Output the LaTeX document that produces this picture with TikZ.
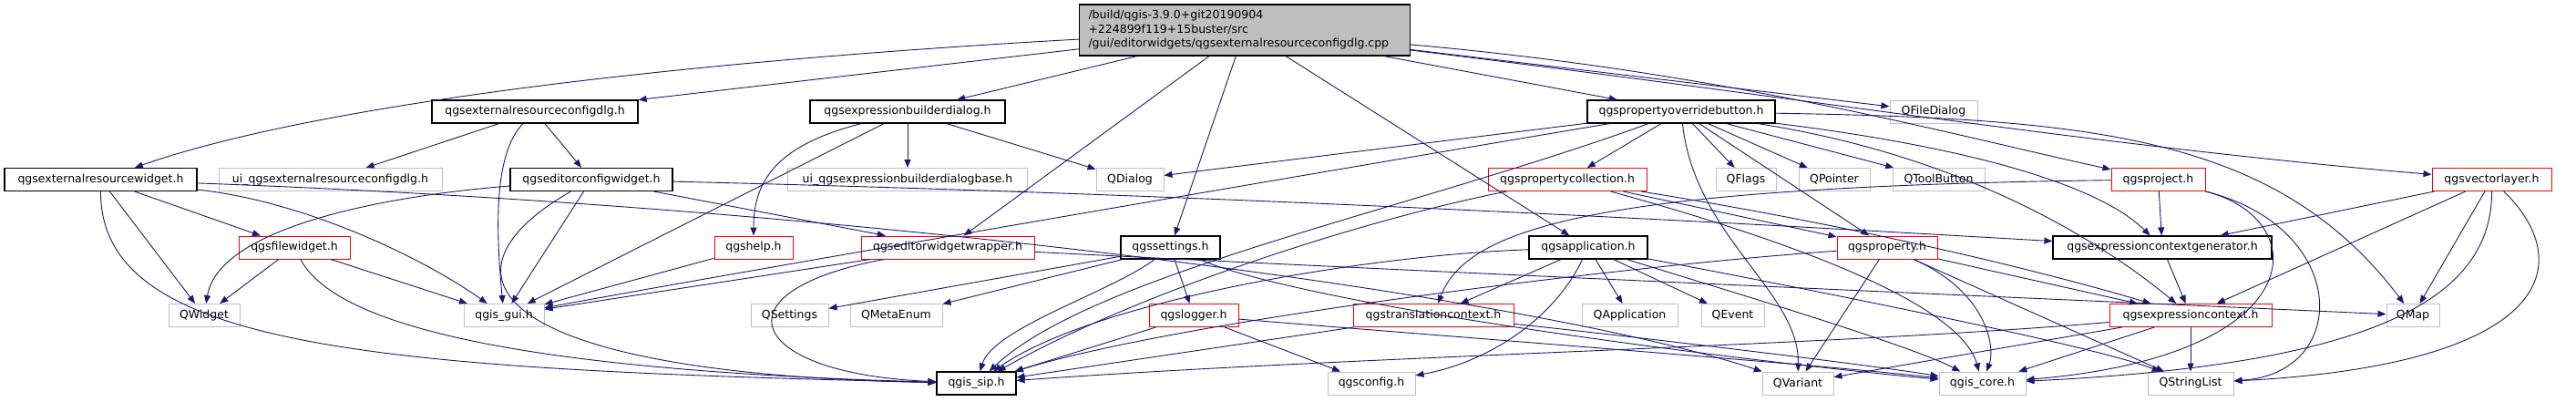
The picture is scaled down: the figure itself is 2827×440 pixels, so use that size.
\documentclass[tikz,border=0pt]{standalone}
\usepackage{fontspec}
\setmainfont{DejaVu Sans}
\usetikzlibrary{arrows.meta}
\definecolor{edgeblue}{HTML}{191970}
\definecolor{boxgray}{HTML}{BFBFBF}

\begin{document}
\begin{tikzpicture}[
      x=1pt, y=-1pt,
      every node/.style={font=\fontsize{12.5}{15.5}\selectfont, inner sep=0pt,
                         minimum height=25pt, fill=white},
      docbox/.style={draw=black, line width=1.2pt},
      redbox/.style={draw=red, line width=1pt},
      extbox/.style={draw=boxgray, line width=1pt},
      arrow/.style={-{Triangle[length=9pt,width=7pt]}, line width=0.9pt, draw=edgeblue},
  ]
    \useasboundingbox (0,0) rectangle (2827,440);

    %% --- The source file ---
    \node[docbox, fill=boxgray, minimum width=363pt, minimum height=56pt,
          text width=343pt, align=left] (cpp) at (1366,33)
      {/build/qgis-3.9.0+git20190904\\+224899f119+15buster/src\\/gui/editorwidgets/qgsexternalresourceconfigdlg.cpp};

    %% --- Rank 1 ---
    \node[docbox, minimum width=226pt] (cfgdlg) at (587,122.5) {qgsexternalresourceconfigdlg.h};
    \node[docbox, minimum width=214pt] (exprdlg) at (996,122.5) {qgsexpressionbuilderdialog.h};
    \node[docbox, minimum width=206pt] (ovrbtn) at (1845,122.5) {qgspropertyoverridebutton.h};
    \node[extbox, minimum width=96pt] (filedlg) at (2122,122.5) {QFileDialog};

    %% --- Rank 2 ---
    \node[docbox, minimum width=211pt] (reswidget) at (110.5,197) {qgsexternalresourcewidget.h};
    \node[extbox, minimum width=245pt] (uicfgdlg) at (362.5,197) {ui\_qgsexternalresourceconfigdlg.h};
    \node[docbox, minimum width=178pt] (edcfgwidget) at (649,197) {qgseditorconfigwidget.h};
    \node[extbox, minimum width=263pt] (uiexprdlg) at (996,197) {ui\_qgsexpressionbuilderdialogbase.h};
    \node[extbox, minimum width=74pt] (qdialog) at (1240,197) {QDialog};
    \node[redbox, minimum width=174pt] (propcoll) at (1720,197) {qgspropertycollection.h};
    \node[extbox, minimum width=66pt] (qflags) at (1916,197) {QFlags};
    \node[extbox, minimum width=78pt] (qpointer) at (2013,197) {QPointer};
    \node[extbox, minimum width=101pt] (qtoolbutton) at (2127.5,197) {QToolButton};
    \node[redbox, minimum width=103pt] (project) at (2368.5,197) {qgsproject.h};
    \node[redbox, minimum width=131pt] (vlayer) at (2734.5,197) {qgsvectorlayer.h};

    %% --- Rank 3 ---
    \node[redbox, minimum width=122pt] (filewidget) at (323,271.5) {qgsfilewidget.h};
    \node[redbox, minimum width=86pt] (help) at (827,271.5) {qgshelp.h};
    \node[redbox, minimum width=190pt] (edwrapper) at (1040,271.5) {qgseditorwidgetwrapper.h};
    \node[docbox, minimum width=109pt] (settings) at (1284.5,271.5) {qgssettings.h};
    \node[docbox, minimum width=130pt] (application) at (1743,271.5) {qgsapplication.h};
    \node[redbox, minimum width=110pt] (property) at (2071,271.5) {qgsproperty.h};
    \node[docbox, minimum width=240pt] (ctxgen) at (2373,271.5) {qgsexpressioncontextgenerator.h};

    %% --- Rank 4 ---
    \node[extbox, minimum width=78pt] (qwidget) at (224,346) {QWidget};
    \node[extbox, minimum width=88pt] (gui) at (553,346) {qgis\_gui.h};
    \node[extbox, minimum width=85pt] (qsettings) at (866.5,346) {QSettings};
    \node[extbox, minimum width=101pt] (qmetaenum) at (983.5,346) {QMetaEnum};
    \node[redbox, minimum width=98pt] (logger) at (1310,346) {qgslogger.h};
    \node[redbox, minimum width=176pt] (transctx) at (1573,346) {qgstranslationcontext.h};
    \node[extbox, minimum width=105pt] (qapplication) at (1788.5,346) {QApplication};
    \node[extbox, minimum width=69pt] (qevent) at (1901.5,346) {QEvent};
    \node[redbox, minimum width=178pt] (exprctx) at (2404,346) {qgsexpressioncontext.h};
    \node[extbox, minimum width=58pt] (qmap) at (2648,346) {QMap};

    %% --- Rank 5 ---
    \node[docbox, minimum width=87pt] (sip) at (1071.5,420.5) {qgis\_sip.h};
    \node[extbox, minimum width=96pt] (config) at (1505,420.5) {qgsconfig.h};
    \node[extbox, minimum width=78pt] (qvariant) at (1973,420.5) {QVariant};
    \node[extbox, minimum width=95pt] (core) at (2175.5,420.5) {qgis\_core.h};
    \node[extbox, minimum width=94pt] (qstringlist) at (2404,420.5) {QStringList};

    %% --- Includes of the .cpp ---
    \draw[arrow] (cpp) .. controls (700,70) and (330,120) .. (reswidget);
    \draw[arrow] (cpp) -- (cfgdlg);
    \draw[arrow] (cpp) -- (exprdlg);
    \draw[arrow] (cpp) -- (edwrapper);
    \draw[arrow] (cpp) -- (settings);
    \draw[arrow] (cpp) -- (application);
    \draw[arrow] (cpp) -- (ovrbtn);
    \draw[arrow] (cpp) -- (filedlg);
    \draw[arrow] (cpp) .. controls (1900,80) and (2150,150) .. (project);
    \draw[arrow] (cpp) .. controls (2000,110) and (2300,160) .. (vlayer);

    %% --- Rank 1 includes ---
    \draw[arrow] (cfgdlg) -- (uicfgdlg);
    \draw[arrow] (cfgdlg) -- (edcfgwidget);
    \draw[arrow] (cfgdlg) .. controls (540,170) and (545,260) .. (gui);
    \draw[arrow] (exprdlg) -- (uiexprdlg);
    \draw[arrow] (exprdlg) -- (qdialog);
    \draw[arrow] (exprdlg) .. controls (850,160) and (827,200) .. (help);
    \draw[arrow] (exprdlg) -- (gui);
    \draw[arrow] (ovrbtn) -- (qdialog);
    \draw[arrow] (ovrbtn) .. controls (1500,180) and (800,300) .. (gui);
    \draw[arrow] (ovrbtn) .. controls (1550,230) and (1200,300) .. (sip);
    \draw[arrow] (ovrbtn) -- (propcoll);
    \draw[arrow] (ovrbtn) -- (qflags);
    \draw[arrow] (ovrbtn) -- (qpointer);
    \draw[arrow] (ovrbtn) -- (qtoolbutton);
    \draw[arrow] (ovrbtn) -- (property);
    \draw[arrow] (ovrbtn) .. controls (1860,260) and (1975,320) .. (qvariant);
    \draw[arrow] (ovrbtn) .. controls (2150,170) and (2300,260) .. (exprctx);
    \draw[arrow] (ovrbtn) .. controls (2300,130) and (2500,150) .. (qmap);
    \draw[arrow] (ovrbtn) .. controls (2150,160) and (2300,200) .. (ctxgen);

    %% --- Rank 2 includes ---
    \draw[arrow] (reswidget) -- (qwidget);
    \draw[arrow] (reswidget) -- (filewidget);
    \draw[arrow] (reswidget) .. controls (330,220) and (460,280) .. (gui);
    \draw[arrow] (reswidget) .. controls (110,380) and (400,405) .. (sip);
    \draw[arrow] (reswidget) .. controls (1000,230) and (1700,330) .. (qvariant);
    \draw[arrow] (edcfgwidget) .. controls (420,215) and (240,250) .. (qwidget);
    \draw[arrow] (edcfgwidget) .. controls (470,300) and (530,410) .. (sip);
    \draw[arrow] (edcfgwidget) -- (gui);
    \draw[arrow] (edcfgwidget) -- (edwrapper);
    \draw[arrow] (edcfgwidget) .. controls (1400,215) and (2000,250) .. (ctxgen);
    \draw[arrow] (propcoll) -- (property);
    \draw[arrow] (propcoll) .. controls (2050,250) and (2250,300) .. (exprctx);
    \draw[arrow] (propcoll) .. controls (1950,260) and (2150,330) .. (core);
    \draw[arrow] (propcoll) .. controls (1500,240) and (1250,320) .. (sip);
    \draw[arrow] (project) -- (ctxgen);
    \draw[arrow] (project) .. controls (2540,240) and (2540,390) .. (core);
    \draw[arrow] (project) .. controls (2580,250) and (2580,410) .. (qstringlist);
    \draw[arrow] (project) .. controls (1750,205) and (1610,250) .. (transctx);
    \draw[arrow] (vlayer) -- (ctxgen);
    \draw[arrow] (vlayer) -- (exprctx);
    \draw[arrow] (vlayer) -- (qmap);
    \draw[arrow] (vlayer) .. controls (2735,330) and (2600,400) .. (core);
    \draw[arrow] (vlayer) .. controls (2830,290) and (2800,400) .. (qstringlist);

    %% --- Rank 3 includes ---
    \draw[arrow] (filewidget) -- (qwidget);
    \draw[arrow] (filewidget) -- (gui);
    \draw[arrow] (filewidget) .. controls (380,380) and (700,410) .. (sip);
    \draw[arrow] (help) -- (gui);
    \draw[arrow] (edwrapper) -- (gui);
    \draw[arrow] (edwrapper) .. controls (780,320) and (820,410) .. (sip);
    \draw[arrow] (edwrapper) .. controls (1600,300) and (2300,330) .. (qmap);
    \draw[arrow] (settings) -- (qsettings);
    \draw[arrow] (settings) -- (qmetaenum);
    \draw[arrow] (settings) -- (logger);
    \draw[arrow] (settings) .. controls (1220,320) and (1090,360) .. (sip);
    \draw[arrow] (settings) .. controls (1450,340) and (1950,400) .. (core);
    \draw[arrow] (application) -- (transctx);
    \draw[arrow] (application) .. controls (1700,360) and (1620,400) .. (config);
    \draw[arrow] (application) -- (qapplication);
    \draw[arrow] (application) -- (qevent);
    \draw[arrow] (application) .. controls (1900,320) and (2100,380) .. (core);
    \draw[arrow] (application) .. controls (2000,320) and (2300,380) .. (qstringlist);
    \draw[arrow] (application) .. controls (1500,280) and (1200,330) .. (sip);
    \draw[arrow] (property) .. controls (1800,290) and (1300,350) .. (sip);
    \draw[arrow] (property) -- (qvariant);
    \draw[arrow] (property) .. controls (2180,320) and (2190,380) .. (core);
    \draw[arrow] (property) -- (exprctx);
    \draw[arrow] (property) -- (qstringlist);
    \draw[arrow] (ctxgen) -- (exprctx);

    %% --- Rank 4 includes ---
    \draw[arrow] (logger) -- (sip);
    \draw[arrow] (logger) -- (config);
    \draw[arrow] (logger) .. controls (1600,370) and (2000,400) .. (core);
    \draw[arrow] (transctx) -- (sip);
    \draw[arrow] (transctx) .. controls (1800,370) and (2050,400) .. (core);
    \draw[arrow] (exprctx) .. controls (2000,380) and (1500,390) .. (sip);
    \draw[arrow] (exprctx) -- (qvariant);
    \draw[arrow] (exprctx) -- (core);
    \draw[arrow] (exprctx) -- (qstringlist);
  \end{tikzpicture}
\end{document}
